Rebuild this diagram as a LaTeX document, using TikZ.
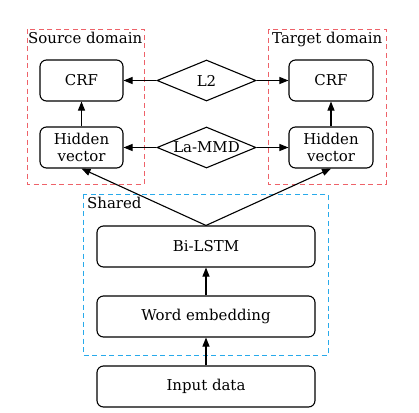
\documentclass[tikz,border=0pt]{standalone}
\usepackage{fontspec}
\setmainfont{DejaVu Serif}
\usepackage{tikz}
\usetikzlibrary{arrows.meta,shapes.geometric}
\definecolor{domred}{RGB}{238,98,105}
\definecolor{shareblue}{RGB}{40,170,235}
\tikzset{%
  tipA/.tip={Triangle[length=9bp,width=7bp]},
  blk/.style={draw, rounded corners=6.5bp, line width=1.1bp, align=center, inner sep=0pt},
  dia/.style={draw, diamond, aspect=2.4, line width=1.1bp, inner sep=0pt, minimum width=99bp, minimum height=41bp},
  conn/.style={line width=1.1bp, -tipA},
  area/.style={dashed, dash pattern=on 5bp off 3.5bp, line width=1bp}
}

\begin{document}
\begin{tikzpicture}[x=1bp,y=-1bp,font=\fontsize{15}{17}\selectfont]
\useasboundingbox (0,0) rectangle (419,413);
% domain boxes
\draw[area, domred] (27,29) rectangle (144,184);
\draw[area, domred] (268,29) rectangle (386,184);
\draw[area, shareblue] (83,194) rectangle (328,355);
\node[anchor=north west, inner sep=1bp] (srclab) at (27,31) {Source domain};
\node[anchor=north west, inner sep=1bp] (tgtlab) at (271,31) {Target domain};
\node[anchor=north west, inner sep=1bp] (shlab) at (86,196) {Shared};
% task layers
\node[blk, minimum width=83bp, minimum height=41bp] (srccrf) at (81.5,80.5) {CRF};
\node[blk, minimum width=83bp, minimum height=41bp] (srchid) at (81.5,147.5) {Hidden\\vector};
\node[blk, minimum width=84bp, minimum height=41bp] (tgtcrf) at (331,80.5) {CRF};
\node[blk, minimum width=84bp, minimum height=41bp] (tgthid) at (331,147.5) {Hidden\\vector};
\node[dia] (ltwo) at (206.5,80.5) {L2};
\node[dia] (lammd) at (206.5,147.5) {La-MMD};
% shared layers
\node[blk, minimum width=218bp, minimum height=41bp] (bilstm) at (206,246.5) {Bi-LSTM};
\node[blk, minimum width=218bp, minimum height=41bp] (wordemb) at (206,316.5) {Word embedding};
\node[blk, minimum width=218bp, minimum height=41bp] (indata) at (206,386.5) {Input data};
% connections
\draw[conn] (indata) -- (wordemb);
\draw[conn] (wordemb) -- (bilstm);
\draw[conn] (bilstm.north) -- (srchid.south);
\draw[conn] (bilstm.north) -- (tgthid.south);
\draw[conn] (srchid) -- (srccrf);
\draw[conn] (tgthid) -- (tgtcrf);
\draw[conn] (ltwo.west) -- (srccrf.east);
\draw[conn] (ltwo.east) -- (tgtcrf.west);
\draw[conn] (lammd.west) -- (srchid.east);
\draw[conn] (lammd.east) -- (tgthid.west);
\end{tikzpicture}
\end{document}
